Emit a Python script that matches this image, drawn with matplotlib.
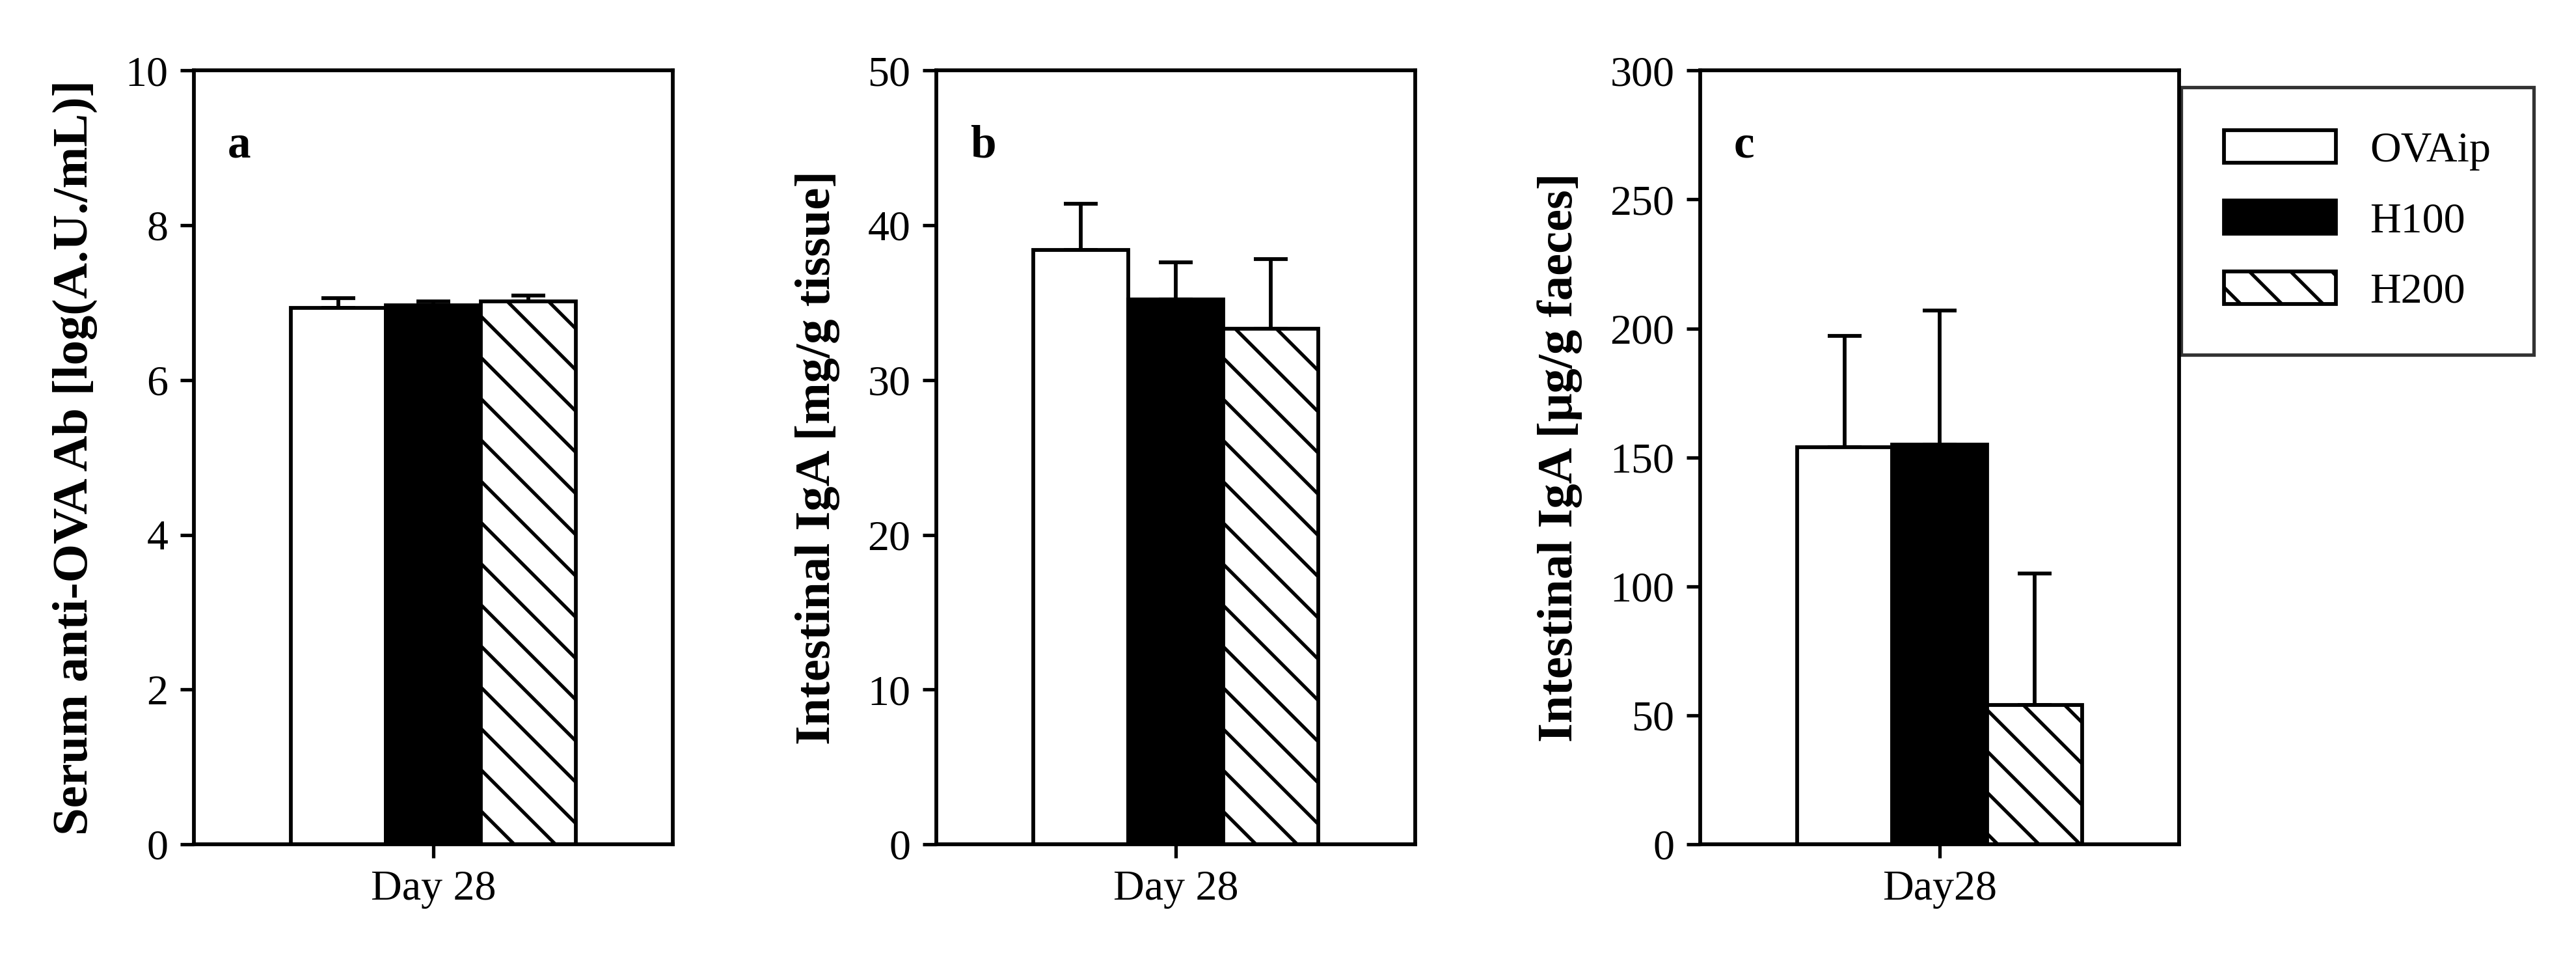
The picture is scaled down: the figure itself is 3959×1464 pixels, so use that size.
import matplotlib
matplotlib.use("Agg")
import matplotlib.pyplot as plt
import numpy as np

groups = ["OVAip", "H100", "H200"]
vals_a = [6.93, 6.97, 7.02]; err_a = [0.13, 0.05, 0.07]
vals_b = [38.4, 35.2, 33.3]; err_b = [3.0, 2.4, 4.5]
vals_c = [154, 155, 54]; err_c = [43, 52, 51]
ylabels = ["Serum anti-OVA Ab [log(A.U./mL)]", "Intestinal IgA [mg/g tissue]",
           "Intestinal IgA [\u03bcg/g faeces]"]
xlabels = ["Day 28", "Day 28", "Day28"]
letters = ["a", "b", "c"]
ylims = [10, 50, 300]
ysteps = [2, 10, 50]

plt.rcParams["font.family"] = "Liberation Serif"
plt.rcParams["hatch.linewidth"] = 1.0
dpi = 380
fig = plt.figure(figsize=(3959/dpi, 1464/dpi), dpi=dpi)
lefts = [0.0753, 0.3635, 0.660]
faces = ["white", "black", "white"]
hatches = [None, None, "\\\\"]
data = [(vals_a, err_a), (vals_b, err_b), (vals_c, err_c)]
handles = None
for i in range(3):
    ax = fig.add_axes([lefts[i], 0.114, 0.186, 0.812])
    v, e = data[i]
    x = np.array([-1, 0, 1])
    hs = []
    for j in range(3):
        b = ax.bar(x[j], v[j], width=1.0, color=faces[j], edgecolor="black",
                   linewidth=1.1, hatch=hatches[j], zorder=2)
        hs.append(b)
        ax.errorbar(x[j], v[j], yerr=[[0], [e[j]]], fmt="none", ecolor="black",
                    elinewidth=1.1, capsize=5, capthick=1.1, zorder=1)
    if handles is None:
        handles = hs
    ax.set_xlim(-2.52, 2.52)
    ax.set_ylim(0, ylims[i])
    ax.set_yticks(np.arange(0, ylims[i] + 0.1, ysteps[i]))
    ax.set_xticks([0])
    ax.set_xticklabels([xlabels[i]])
    ax.tick_params(direction="out", labelsize=12.5, width=1.0, length=4)
    for s in ax.spines.values():
        s.set_linewidth(1.1)
    ax.set_ylabel(ylabels[i], fontsize=14.5, fontweight="bold", labelpad=8)
    ax.text(0.07, 0.93, letters[i], transform=ax.transAxes, fontsize=13.5,
            fontweight="bold", va="top")

leg = fig.legend(handles, groups, loc="upper right", bbox_to_anchor=(0.992, 0.931),
                 fontsize=12.5, handlelength=2.6, handleheight=0.8, frameon=True,
                 fancybox=False, edgecolor="black", borderpad=1.0, labelspacing=0.7)
leg.get_frame().set_linewidth(1.0)
fig.savefig("out.png", dpi=dpi)
